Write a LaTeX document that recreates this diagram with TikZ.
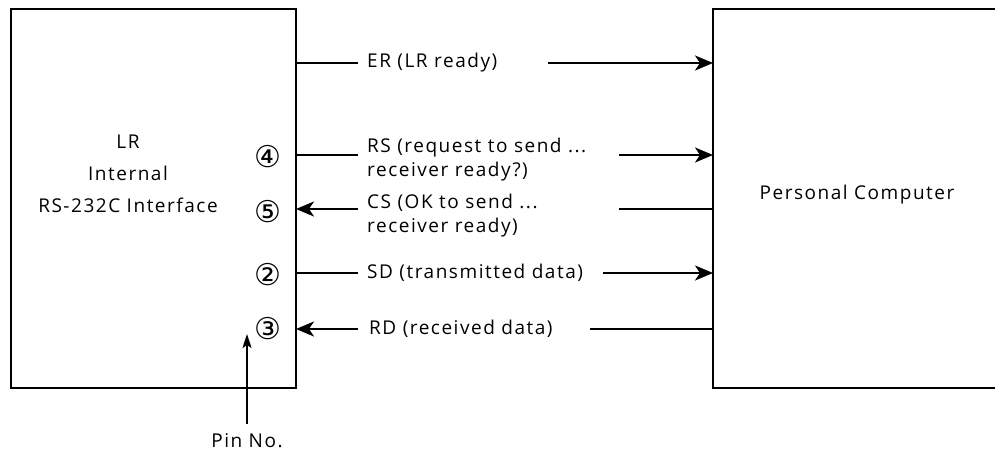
\documentclass[tikz,border=0pt]{standalone}
\usepackage{fontspec}
\setmainfont{Open Sans}[LetterSpace=8]
\newfontfamily\circfont{DejaVu Sans}
\usetikzlibrary{arrows.meta,calc}
\begin{document}
\begin{tikzpicture}[x=1pt,y=-1pt,
  box/.style={draw,line width=2.6pt},
  wire/.style={line width=2.2pt},
  arr/.style={wire,-{Stealth[length=18pt,width=15pt,inset=5pt]}},
  lbl/.style={font=\fontsize{19}{24}\selectfont,inner sep=0pt,anchor=west,align=left},
  pin/.style={font=\circfont\fontsize{30}{30}\selectfont,inner sep=0pt},
  ctr/.style={font=\fontsize{19}{32}\selectfont,align=center,inner sep=0pt}]
\useasboundingbox (0,0) rectangle (995,455);
\clip (0,0) rectangle (995,455);
% boxes
\draw[box] (11,9) rectangle (296,388);
\draw[box] (713,9) rectangle (1010,388);
\coordinate (LRe) at (296,0);
\coordinate (PCw) at (713,0);
\node[ctr] (lr) at (128,174) {LR\\Internal\\RS-232C Interface};
\node[ctr] (pc) at (857,195) {Personal Computer};
% pins
\node[pin] (p4) at (268,157) {④};
\node[pin] (p5) at (268,212) {⑤};
\node[pin] (p2) at (268,275) {②};
\node[pin] (p3) at (268,329) {③};
% labels
\node[lbl] (er) at (367,63) {ER (LR ready)};
\node[lbl,anchor=north west] (rs) at (367,138) {RS (request to send ...\\receiver ready?)};
\node[lbl,anchor=north west] (cs) at (367,194) {CS (OK to send ...\\receiver ready)};
\node[lbl] (sd) at (367,273) {SD (transmitted data)};
\node[lbl] (rd) at (369,329) {RD (received data)};
% coordinates for wire ends
\coordinate (erA) at (358,63); \coordinate (erB) at (548,63);
\coordinate (rsA) at (358,155); \coordinate (rsB) at (619,155);
\coordinate (csA) at (358,209); \coordinate (csB) at (619,209);
\coordinate (sdA) at (358,273); \coordinate (sdB) at (603,273);
\coordinate (rdA) at (358,329); \coordinate (rdB) at (590,329);
% wires
\draw[wire] (LRe |- erA) -- (erA);
\draw[arr] (erB) -- (PCw |- erB);
\draw[wire] (LRe |- rsA) -- (rsA);
\draw[arr] (rsB) -- (PCw |- rsB);
\draw[arr] (csA) -- (LRe |- csA);
\draw[wire] (csB) -- (PCw |- csB);
\draw[wire] (LRe |- sdA) -- (sdA);
\draw[arr] (sdB) -- (PCw |- sdB);
\draw[arr] (rdA) -- (LRe |- rdA);
\draw[wire] (rdB) -- (PCw |- rdB);
% pin no
\node[font=\fontsize{19}{19}\selectfont,inner sep=0pt] (pinno) at (247,441) {Pin No.};
\coordinate (pintip) at (247,334);
\draw[wire,line width=1.8pt,-{Stealth[length=14pt,width=9pt,inset=3pt]}] ($(pinno.north)+(0,-10)$) -- (pintip);
\end{tikzpicture}
\end{document}
